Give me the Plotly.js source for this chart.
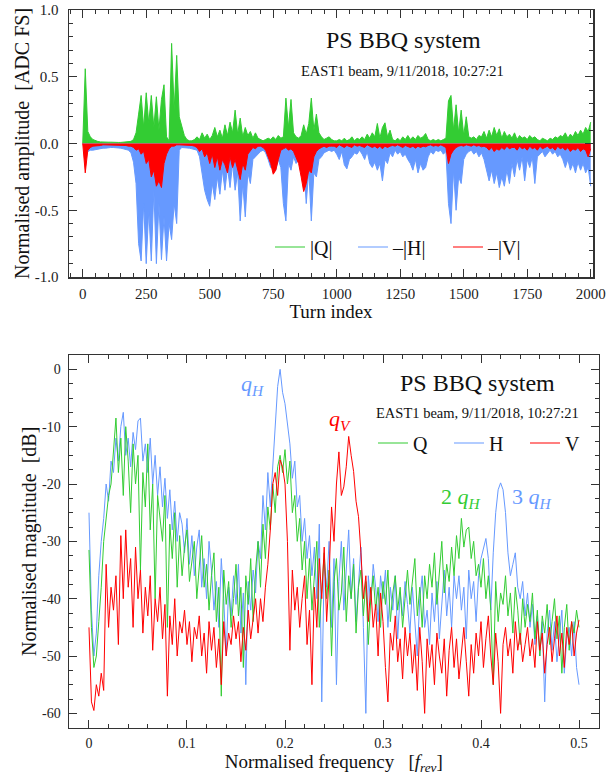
<!DOCTYPE html>
<html>
<head>
<meta charset="utf-8">
<script src="https://cdn.plot.ly/plotly-3.0.1.min.js"></script>
<style>html,body{margin:0;padding:0;background:#fff;}#chart{width:610px;height:780px;}</style>
</head>
<body>
<div id="chart"></div>
<script>
// ---------- Top panel: turn-by-turn amplitudes (one sample every 10 turns) ----------
var turnStart = 0, turnStep = 10;
var ampQ = [
 0.00, 0.56, 0.09, 0.05, 0.03, 0.02, 0.015, 0.012, 0.01, 0.01,
 0.01, 0.01, 0.008, 0.008, 0.008, 0.008, 0.009, 0.01, 0.012, 0.016,
 0.03, 0.08, 0.22, 0.36, 0.12, 0.38, 0.15, 0.36, 0.12, 0.35,
 0.10, 0.33, 0.44, 0.05, 0.02, 0.75, 0.25, 0.66, 0.20, 0.12,
 0.06, 0.03, 0.02, 0.02, 0.03, 0.05, 0.03, 0.08, 0.04, 0.07,
 0.03, 0.06, 0.12, 0.05, 0.10, 0.04, 0.14, 0.06, 0.16, 0.08,
 0.25, 0.07, 0.19, 0.05, 0.12, 0.06, 0.09, 0.04, 0.08, 0.04,
 0.03, 0.02, 0.03, 0.04, 0.03, 0.05, 0.03, 0.06, 0.04, 0.05,
 0.34, 0.12, 0.33, 0.08, 0.05, 0.04, 0.06, 0.14, 0.07, 0.15,
 0.34, 0.10, 0.22, 0.08, 0.05, 0.03, 0.04, 0.05, 0.03, 0.02,
 0.02, 0.03, 0.02, 0.04, 0.02, 0.03, 0.05, 0.02, 0.04, 0.03,
 0.05, 0.03, 0.07, 0.04, 0.08, 0.05, 0.15, 0.04, 0.12, 0.155,
 0.05, 0.10, 0.03, 0.02, 0.04, 0.02, 0.05, 0.03, 0.06, 0.03,
 0.05, 0.03, 0.06, 0.04, 0.05, 0.075, 0.03, 0.02, 0.03, 0.02,
 0.03, 0.02, 0.03, 0.04, 0.32, 0.36, 0.10, 0.29, 0.08, 0.25,
 0.06, 0.20, 0.05, 0.04, 0.05, 0.03, 0.06, 0.05, 0.09, 0.04,
 0.10, 0.05, 0.12, 0.06, 0.11, 0.04, 0.09, 0.05, 0.07, 0.04,
 0.08, 0.03, 0.06, 0.04, 0.05, 0.03, 0.06, 0.04, 0.05, 0.03,
 0.02, 0.04, 0.03, 0.02, 0.04, 0.03, 0.05, 0.04, 0.06, 0.05,
 0.08, 0.04, 0.07, 0.05, 0.09, 0.06, 0.10, 0.07, 0.12, 0.09,
 0.16
];
var ampH = [
 0.00, -0.04, -0.06, -0.05, -0.05, -0.045, -0.04, -0.04, -0.035, -0.035,
 -0.03, -0.03, -0.03, -0.03, -0.035, -0.035, -0.04, -0.045, -0.05, -0.07,
 -0.14, -0.30, -0.75, -0.88, -0.45, -0.90, -0.50, -0.88, -0.35, -0.90,
 -0.45, -0.87, -0.55, -0.88, -0.60, -0.72, -0.45, -0.60, -0.05, -0.03,
 -0.03, -0.03, -0.035, -0.04, -0.045, -0.05, -0.10, -0.22, -0.35, -0.42,
 -0.47, -0.30, -0.42, -0.25, -0.38, -0.20, -0.35, -0.18, -0.33, -0.15,
 -0.35, -0.22, -0.58, -0.30, -0.55, -0.22, -0.30, -0.12, -0.10, -0.08,
 -0.06, -0.05, -0.07, -0.12, -0.18, -0.10, -0.20, -0.12, -0.18, -0.45,
 -0.58, -0.15, -0.20, -0.10, -0.15, -0.12, -0.20, -0.15, -0.45, -0.20,
 -0.58, -0.22, -0.25, -0.12, -0.10, -0.07, -0.06, -0.05, -0.06, -0.05,
 -0.08, -0.12, -0.06, -0.16, -0.19, -0.12, -0.10, -0.07, -0.08, -0.05,
 -0.08, -0.12, -0.06, -0.15, -0.18, -0.14, -0.20, -0.15, -0.28, -0.12,
 -0.15, -0.07, -0.10, -0.05, -0.08, -0.06, -0.10, -0.08, -0.12, -0.15,
 -0.20, -0.12, -0.22, -0.15, -0.20, -0.18, -0.10, -0.06, -0.08, -0.05,
 -0.06, -0.05, -0.08, -0.06, -0.45, -0.60, -0.20, -0.50, -0.25, -0.30,
 -0.12, -0.08, -0.06, -0.05, -0.08, -0.06, -0.10, -0.07, -0.12, -0.20,
 -0.28, -0.20, -0.30, -0.22, -0.33, -0.25, -0.32, -0.20, -0.30, -0.15,
 -0.25, -0.12, -0.20, -0.10, -0.28, -0.12, -0.18, -0.10, -0.30, -0.10,
 -0.08, -0.06, -0.10, -0.07, -0.05, -0.08, -0.06, -0.10, -0.08, -0.12,
 -0.18, -0.12, -0.20, -0.15, -0.22, -0.14, -0.20, -0.15, -0.22, -0.18,
 -0.32
];
var ampV = [
 0.00, -0.22, -0.05, -0.03, -0.02, -0.02, -0.015, -0.015, -0.01, -0.01,
 -0.01, -0.01, -0.01, -0.01, -0.012, -0.012, -0.015, -0.015, -0.02, -0.02,
 -0.03, -0.05, -0.04, -0.08, -0.06, -0.15, -0.12, -0.25, -0.20, -0.32,
 -0.28, -0.33, -0.15, -0.08, -0.04, -0.02, -0.02, -0.01, -0.01, -0.01,
 -0.01, -0.01, -0.01, -0.015, -0.02, -0.03, -0.06, -0.04, -0.10, -0.07,
 -0.15, -0.08, -0.18, -0.10, -0.20, -0.12, -0.16, -0.22, -0.10, -0.18,
 -0.12, -0.20, -0.27, -0.15, -0.20, -0.08, -0.05, -0.03, -0.04, -0.02,
 -0.02, -0.03, -0.05, -0.10, -0.15, -0.23, -0.20, -0.12, -0.05, -0.04,
 -0.03, -0.05, -0.04, -0.06, -0.10, -0.15, -0.25, -0.36, -0.30, -0.20,
 -0.22, -0.10, -0.06, -0.04, -0.03, -0.02, -0.03, -0.02, -0.02, -0.02,
 -0.03, -0.01, -0.02, -0.03, -0.015, -0.02, -0.03, -0.01, -0.02, -0.015,
 -0.02, -0.03, -0.01, -0.02, -0.03, -0.02, -0.035, -0.02, -0.04, -0.02,
 -0.03, -0.02, -0.015, -0.02, -0.01, -0.02, -0.03, -0.015, -0.02, -0.03,
 -0.02, -0.035, -0.02, -0.03, -0.02, -0.025, -0.015, -0.01, -0.02, -0.015,
 -0.02, -0.01, -0.02, -0.03, -0.15, -0.08, -0.05, -0.03, -0.02, -0.015,
 -0.02, -0.01, -0.015, -0.02, -0.01, -0.02, -0.015, -0.025, -0.02, -0.03,
 -0.05, -0.03, -0.06, -0.04, -0.05, -0.03, -0.045, -0.02, -0.04, -0.03,
 -0.03, -0.05, -0.02, -0.04, -0.03, -0.05, -0.02, -0.04, -0.03, -0.05,
 -0.02, -0.04, -0.03, -0.02, -0.04, -0.03, -0.05, -0.02, -0.04, -0.03,
 -0.05, -0.03, -0.06, -0.04, -0.05, -0.03, -0.06, -0.04, -0.05, -0.10,
 -0.04
];

// ---------- Bottom panel: spectra in dB (one sample every 0.0025 f_rev) ----------
var freqStart = 0, freqStep = 0.0025;
var specH = [
 -25, -42, -50, -46, -36, -30, -26, -20, -23, -16,
 -18, -12, -16, -10, -7.5, -15, -12, -17, -11, -14,
 -9, -8.5, -16, -13, -18, -12, -20, -15, -22, -17,
 -24, -19, -26, -21, -28, -23, -30, -25, -27, -32,
 -26, -34, -29, -36, -31, -28, -38, -33, -40, -30,
 -35, -42, -37, -45, -33, -40, -50, -38, -43, -36,
 -41, -34, -46, -39, -55, -37, -42, -35, -39, -30,
 -33, -22, -28, -18, -24, -17, -9, -3, 0, -4,
 -6, -10, -13, -19, -16, -24, -22, -30, -26, -33,
 -29, -36, -31, -40, -27, -58, -34, -38, -30, -45,
 -33, -55, -37, -30, -42, -35, -28, -40, -33, -44,
 -37, -31, -45, -60, -36, -41, -34, -38, -44, -36,
 -40, -35, -45, -38, -42, -36, -47, -39, -43, -37,
 -41, -46, -38, -44, -50, -40, -36, -45, -42, -48,
 -39, -44, -37, -47, -41, -35, -43, -38, -45, -36,
 -40, -36, -42, -38, -47, -35, -40, -37, -44, -36,
 -33, -31, -29.5, -33, -42, -32, -25, -21, -19.8, -21,
 -25, -32, -36, -34, -32, -38, -40, -37, -43, -39,
 -45, -41, -48, -43, -50, -44, -58, -46, -42, -49,
 -44, -51, -46, -42, -53, -47, -45, -50, -44, -52,
 -55
];
var specQ = [
 -31.5, -45, -52, -50, -44, -38, -30, -26, -22, -20,
 -14, -8.5, -18, -12, -22, -10, -16, -25, -13, -20,
 -15, -35, -18, -24, -13, -28, -20, -40, -22, -26,
 -30, -22, -45, -27, -33, -25, -38, -29, -36, -31,
 -28, -37, -33, -30, -40, -35, -29, -38, -34, -42,
 -36, -32, -44, -38, -57, -35, -41, -37, -45, -40,
 -34, -43, -38, -52, -36, -41, -33, -44, -35, -30,
 -38, -27, -33, -24, -28, -20, -25, -17, -15, -18,
 -14, -20, -16, -25, -22, -30, -26, -35, -30, -40,
 -33, -42, -36, -30, -45, -38, -32, -40, -35, -50,
 -37, -33, -42, -39, -31, -44, -36, -40, -34, -46,
 -38, -35, -43, -37, -48, -40, -36, -42, -38, -45,
 -37, -41, -35, -44, -39, -36, -42, -38, -45, -40,
 -35, -41, -37, -33, -43, -38, -45, -36, -40, -34,
 -38, -32, -41, -35, -30, -39, -34, -37, -31, -36,
 -29, -33, -26, -31, -28, -27.5, -33, -30, -36, -34,
 -38, -33, -40, -36, -42, -55, -37, -44, -39, -41,
 -36, -43, -39, -46, -38, -42, -48, -40, -45, -41,
 -44, -39, -47, -42, -50, -43, -46, -41, -48, -44,
 -40, -47, -43, -53, -45, -41, -49, -44, -46, -42,
 -45
];
var specV = [
 -45, -58, -59.5, -55, -57, -53, -56, -34, -45, -38,
 -42, -36, -48, -29, -40, -28, -38, -33, -45, -31,
 -40, -35, -46, -38, -43, -36, -49, -40, -44, -38,
 -47, -41, -57, -43, -48, -40, -50, -44, -46, -42,
 -48, -44, -51, -45, -47, -43, -50, -46, -53, -44,
 -49, -45, -52, -47, -55, -44, -50, -46, -48, -43,
 -47, -44, -51, -45, -49, -42, -47, -43, -40, -46,
 -40, -44, -38, -34, -28, -20, -18, -22, -15.8, -17,
 -20, -30, -49, -35, -42, -38, -45, -40, -36, -48,
 -42, -55, -38, -45, -33, -40, -31, -44, -36, -24,
 -30, -20, -14.4, -22, -20.5, -17, -11.7, -15, -17.8, -23,
 -25.7, -32, -40, -36, -44, -38, -45, -41, -50, -39,
 -44, -52, -58, -46, -49, -43, -51, -47, -54, -45,
 -50, -46, -53, -48, -56, -45, -51, -60, -47, -52,
 -48, -55, -46, -50, -53, -47, -57, -49, -45, -52,
 -47, -54, -49, -45, -51, -57, -48, -53, -46, -50,
 -44, -52, -47, -43, -50, -55, -46, -51, -60, -48,
 -45, -50, -47, -53, -44, -49, -46, -51, -48, -45,
 -50, -47, -52, -44, -49, -46, -53, -48, -45, -51,
 -47, -43, -50, -46, -52, -45, -48, -44, -50, -46,
 -43.7
];

// ---------- Tick labels ----------
var turnTicks = [0, 250, 500, 750, 1000, 1250, 1500, 1750, 2000];
var turnTickText = ["0", "250", "500", "750", "1000", "1250", "1500", "1750", "2000"];
var ampTicks = [-1, -0.5, 0, 0.5, 1];
var ampTickText = ["-1.0", "-0.5", "0.0", "0.5", "1.0"];
var freqTicks = [0, 0.1, 0.2, 0.3, 0.4, 0.5];
var freqTickText = ["0", "0.1", "0.2", "0.3", "0.4", "0.5"];
var dbTicks = [0, -10, -20, -30, -40, -50, -60];
var dbTickText = ["0", "-10", "-20", "-30", "-40", "-50", "-60"];

var cQ = "#33cc33", cH = "#6699ff", cV = "#ff0000";
var FONT = "Liberation Serif, Times New Roman, serif";

function topTrace(vals, color) {
  return {x0: turnStart, dx: turnStep, y: vals, type: "scatter", mode: "lines",
    line: {color: color, width: 1}, fill: "tozeroy", fillcolor: color,
    xaxis: "x", yaxis: "y", showlegend: false, hoverinfo: "skip"};
}
function legendOnly(name, color, legendId, w, rank) {
  return {x: [null], y: [null], type: "scatter", mode: "lines", name: name,
    line: {color: color, width: 1.2}, xaxis: legendId === "legend" ? "x" : "x2",
    yaxis: legendId === "legend" ? "y" : "y2", legend: legendId, legendwidth: w, legendrank: rank};
}
function botTrace(vals, color) {
  return {x0: freqStart, dx: freqStep, y: vals, type: "scatter", mode: "lines",
    line: {color: color, width: 1}, xaxis: "x2", yaxis: "y2", showlegend: false};
}

var traces = [
  topTrace(ampQ, cQ), topTrace(ampH, cH), topTrace(ampV, cV),
  botTrace(specH, cH), botTrace(specQ, cQ), botTrace(specV, cV),
  legendOnly("|Q|", cQ, "legend", 38, 1),
  legendOnly("\u2013|H|", cH, "legend", 50, 2),
  legendOnly("\u2013|V|", cV, "legend", 40, 3),
  legendOnly("Q", cQ, "legend2", 31, 1),
  legendOnly("H", cH, "legend2", 31, 2),
  legendOnly("V", cV, "legend2", 31, 3)
];

function axisBase(fs) {
  return {
    showline: true, linecolor: "#333", linewidth: 1.5, mirror: "ticks",
    ticks: "inside", ticklen: 8, tickwidth: 1, tickcolor: "#333",
    showgrid: false, zeroline: false, tickmode: "array",
    tickfont: {family: FONT, size: fs, color: "#222"}, automargin: false
  };
}

var xTop = axisBase(15);
Object.assign(xTop, {domain: [69/610, 593/610], range: [-54, 2009], anchor: "y",
  tickvals: turnTicks, ticktext: turnTickText, ticklabelstandoff: 2,
  minor: {dtick: 50, tick0: 0, ticks: "inside", ticklen: 4, tickcolor: "#333"},
  title: {text: "Turn index", font: {family: FONT, size: 19, color: "#111"}, standoff: 4}});
var yTop = axisBase(15);
Object.assign(yTop, {domain: [1 - 277/780, 1 - 10/780], range: [-1, 1], anchor: "x",
  tickvals: ampTicks, ticktext: ampTickText, ticklabelstandoff: 6,
  minor: {dtick: 0.1, tick0: 0, ticks: "inside", ticklen: 4, tickcolor: "#333"},
  title: {text: "Normalised amplitude  [ADC FS]", font: {family: FONT, size: 20, color: "#111"}, standoff: 0}});
var xBot = axisBase(14);
Object.assign(xBot, {domain: [69/610, 598.7/610], range: [-0.0204, 0.5201], anchor: "y2",
  tickvals: freqTicks, ticktext: freqTickText, ticklabelstandoff: 2,
  minor: {dtick: 0.02, tick0: 0, ticks: "inside", ticklen: 4, tickcolor: "#333"},
  title: {text: "Normalised frequency   [<i>f</i><sub><i>rev</i></sub>]", font: {family: FONT, size: 19, color: "#111"}, standoff: 0}});
var yBot = axisBase(14);
Object.assign(yBot, {domain: [1 - 727.7/780, 1 - 355/780], range: [-62.5, 2.5], anchor: "x2",
  tickvals: dbTicks, ticktext: dbTickText, ticklabelstandoff: 4,
  minor: {dtick: 2.5, tick0: 0, ticks: "inside", ticklen: 4, tickcolor: "#333"},
  title: {text: "Normalised magnitude  [dB]", font: {family: FONT, size: 20, color: "#111"}, standoff: 0}});

var legFont = {family: FONT, size: 20, color: "#111"};
function note(text, x, y, size, color, xref, yref) {
  return {text: text, x: x, y: y, xref: xref || "paper", yref: yref || "paper",
    xanchor: "center", yanchor: "middle", showarrow: false,
    font: {family: FONT, size: size, color: color}};
}
var layout = {
  width: 610, height: 780, margin: {l: 0, r: 0, t: 0, b: 0},
  paper_bgcolor: "#fff", plot_bgcolor: "#fff", showlegend: true,
  font: {family: FONT, color: "#111"},
  xaxis: xTop, yaxis: yTop, xaxis2: xBot, yaxis2: yBot,
  legend: {orientation: "h", x: 270/610, y: 1 - 247/780, xanchor: "left", yanchor: "middle",
    bgcolor: "rgba(0,0,0,0)", font: legFont, traceorder: "normal"},
  legend2: {orientation: "h", x: 373/610, y: 1 - 443/780, xanchor: "left", yanchor: "middle",
    bgcolor: "rgba(0,0,0,0)", font: legFont, traceorder: "normal"},
  annotations: [
    note("PS BBQ system", 403/610, 1 - 40/780, 24, "#111"),
    note("EAST1 beam, 9/11/2018, 10:27:21", 402/610, 1 - 71/780, 14.5, "#111"),
    note("PS BBQ system", 477/610, 1 - 383/780, 24, "#111"),
    note("EAST1 beam, 9/11/2018, 10:27:21", 477/610, 1 - 413/780, 14.5, "#111"),
    note("<i>q</i><sub><i>H</i></sub>", 0.167, -2.8, 22, cH, "x2", "y2"),
    note("<i>q</i><sub><i>V</i></sub>", 0.2565, -8.9, 22, cV, "x2", "y2"),
    note("2 <i>q</i><sub><i>H</i></sub>", 0.3795, -22.4, 22, cQ, "x2", "y2"),
    note("3 <i>q</i><sub><i>H</i></sub>", 0.4525, -22.4, 22, cH, "x2", "y2")
  ]
};

Plotly.newPlot("chart", traces, layout, {staticPlot: true, displayModeBar: false});
</script>
</body>
</html>
